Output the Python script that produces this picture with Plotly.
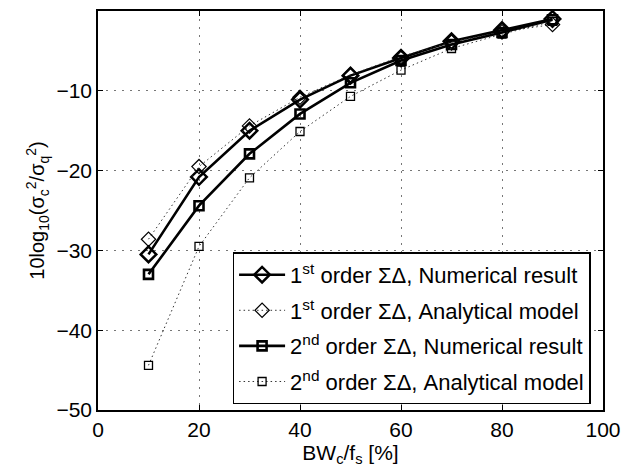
import plotly.graph_objects as go

# Bandwidth ratio BW_c / f_s in percent
bw = [10, 20, 30, 40, 50, 60, 70, 80, 90]

# 10log10(sigma_c^2 / sigma_q^2) in dB
first_numerical = [-30.5, -20.8, -15.0, -11.1, -8.1, -5.9, -3.8, -2.4, -1.0]
first_analytical = [-28.6, -19.5, -14.4, -10.8, -8.0, -5.7, -3.9, -2.6, -1.7]
second_numerical = [-33.0, -24.4, -17.9, -12.9, -9.0, -6.2, -4.2, -2.7, -1.1]
second_analytical = [-44.4, -29.5, -20.9, -15.1, -10.7, -7.4, -4.7, -2.9, -1.3]

names = [
    "1<sup>st</sup> order \u03a3\u0394, Numerical result",
    "1<sup>st</sup> order \u03a3\u0394, Analytical model",
    "2<sup>nd</sup> order \u03a3\u0394, Numerical result",
    "2<sup>nd</sup> order \u03a3\u0394, Analytical model",
]

FONT = "Liberation Sans"
SOLID = dict(color="black", width=2.6)
DOTTED = dict(color="#333333", width=1, dash="1.5px,3px")

fig = go.Figure()
fig.add_trace(go.Scatter(
    x=bw, y=first_numerical, name=names[0], mode="lines+markers", legendgroup="a",
    line=SOLID,
    marker=dict(symbol="diamond-open", size=12, color="black", line=dict(width=2.5)),
))
fig.add_trace(go.Scatter(
    x=bw, y=first_analytical, name=names[1], mode="lines+markers", legendgroup="b",
    line=DOTTED,
    marker=dict(symbol="diamond-open", size=11, color="black", line=dict(width=1.2)),
))
fig.add_trace(go.Scatter(
    x=bw, y=second_numerical, name=names[2], mode="lines+markers", legendgroup="c",
    line=SOLID,
    marker=dict(symbol="square-open", size=9, color="black", line=dict(width=2.6)),
))
fig.add_trace(go.Scatter(
    x=bw, y=second_analytical, name=names[3], mode="lines+markers", legendgroup="d",
    line=DOTTED,
    marker=dict(symbol="square-open", size=8, color="black", line=dict(width=1.3)),
))

axis_common = dict(
    showline=True, linecolor="black", linewidth=1.5, mirror="ticks",
    ticks="inside", ticklen=5, tickcolor="black",
    showgrid=True, gridcolor="#777777", griddash="2px,6px", gridwidth=1,
    zeroline=False, tickfont=dict(family=FONT, size=21, color="black"),
)

fig.update_xaxes(
    range=[0, 100], tickvals=[0, 20, 40, 60, 80, 100],
    title=dict(text="BW<sub>c</sub>/f<sub>s</sub> [%]", font=dict(family=FONT, size=21, color="black"), standoff=3),
    **axis_common,
)
fig.update_yaxes(
    range=[-50, 0], tickvals=[-50, -40, -30, -20, -10, 0],
    title=dict(text="10log<sub>10</sub>(\u03c3<sub>c</sub><sup>2</sup>/\u03c3<sub>q</sub><sup>2</sup>)",
               font=dict(family=FONT, size=20, color="black"), standoff=6),
    **axis_common,
)

fig.update_layout(
    width=630, height=472,
    margin=dict(l=98, r=18, t=9, b=62),
    paper_bgcolor="white", plot_bgcolor="white",
    font=dict(family=FONT, color="black"),
    legend=dict(
        x=0.2665, y=0.395, xanchor="left", yanchor="top",
        bordercolor="black", borderwidth=1.5, bgcolor="white",
        font=dict(family=FONT, size=22, color="black"),
        itemwidth=46, tracegroupgap=4,
    ),
    showlegend=True,
)

fig.write_html("out.html")
